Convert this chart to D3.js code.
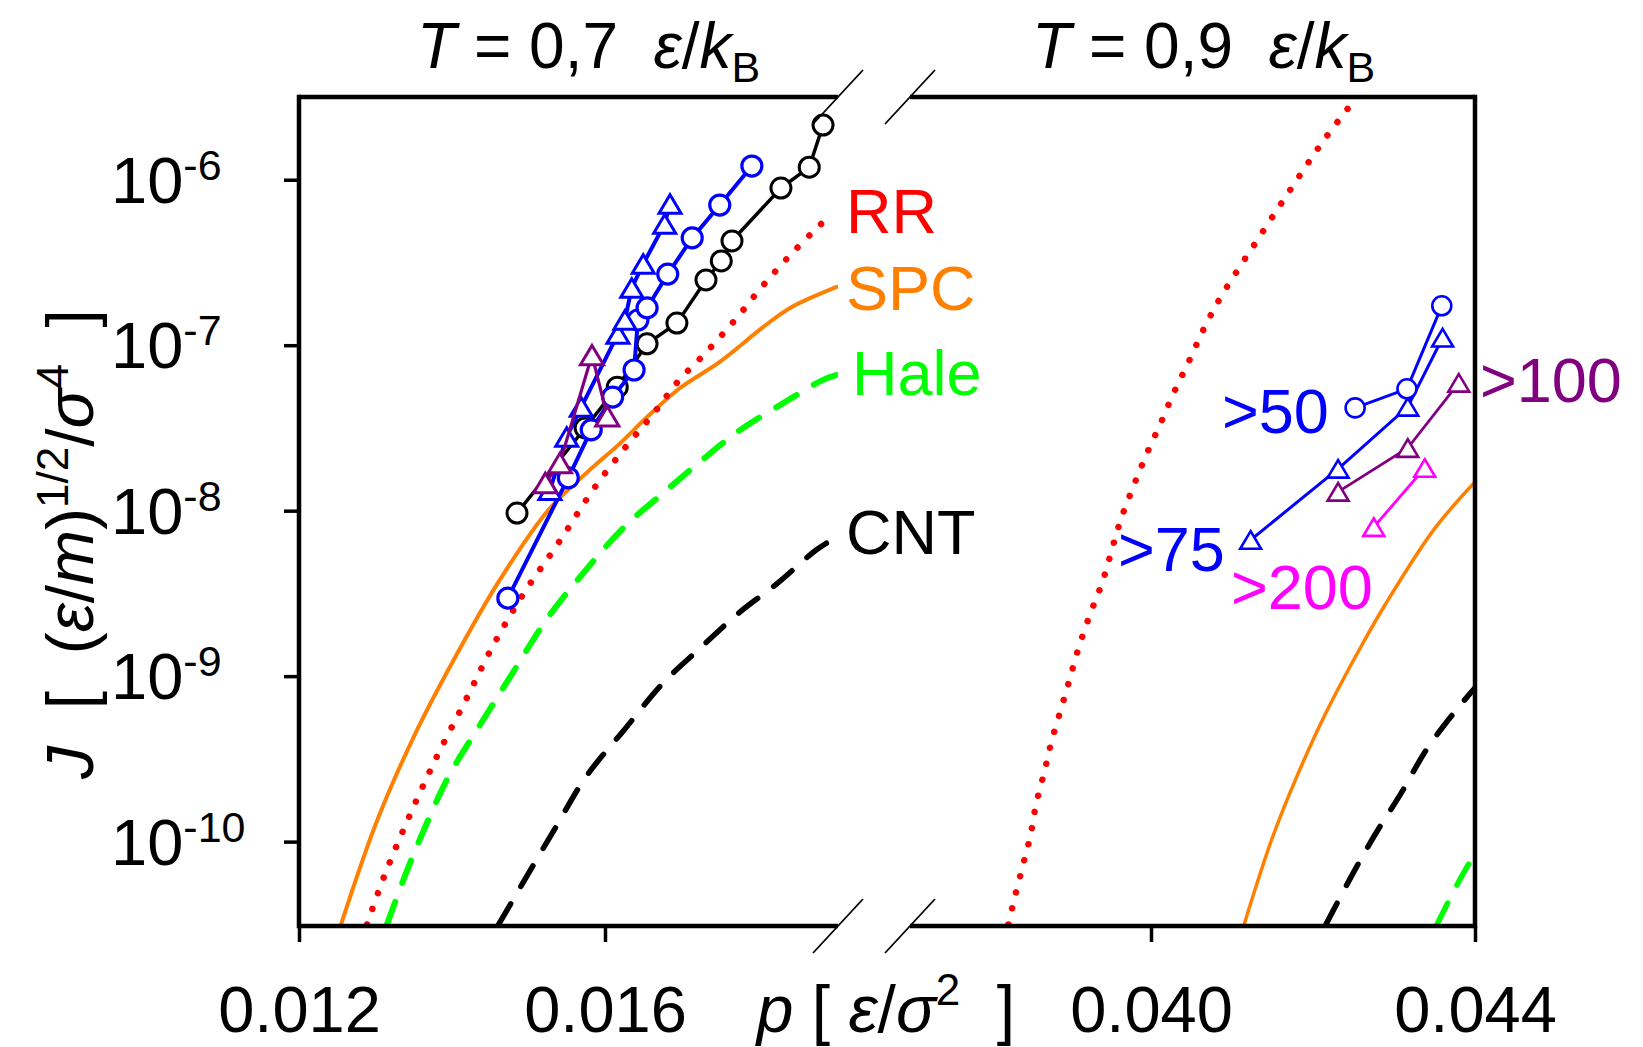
<!DOCTYPE html>
<html>
<head>
<meta charset="utf-8">
<script src="https://cdn.jsdelivr.net/npm/d3@7"></script>
<style>
body { margin: 0; background: #fff; }
text { font-family: "Liberation Sans", Arial, sans-serif; white-space: pre; }
</style>
</head>
<body>
<div id="chart"></div>
<script>
// ---- data: T = 0.7 (left panel) ----
const pCircBlack07 = [0.01485, 0.01574, 0.01616, 0.01655, 0.01694, 0.01732, 0.01752, 0.01766, 0.01830, 0.01867, 0.01885];
const jCircBlack07 = [9.68e-9, 3.16e-8, 5.58e-8, 1.02e-7, 1.36e-7, 2.48e-7, 3.23e-7, 4.27e-7, 8.91e-7, 1.19e-6, 2.14e-6];
const pCircBlue07 = [0.01473, 0.01552, 0.01582, 0.01610, 0.01638, 0.01643, 0.01655, 0.01682, 0.01714, 0.01750, 0.01792];
const jCircBlue07 = [2.96e-9, 1.58e-8, 3.08e-8, 4.86e-8, 7.08e-8, 1.42e-7, 1.68e-7, 2.69e-7, 4.45e-7, 7.03e-7, 1.21e-6];
const pTriBlue07 = [0.01528, 0.01550, 0.01569, 0.01617, 0.01626, 0.01635, 0.01650, 0.01678, 0.01685];
const jTriBlue07 = [1.33e-8, 2.79e-8, 4.23e-8, 1.17e-7, 1.42e-7, 2.22e-7, 3.10e-7, 5.40e-7, 7.13e-7];
const pTriPurple07 = [0.01522, 0.01541, 0.01583, 0.01603];
const jTriPurple07 = [1.47e-8, 1.94e-8, 8.71e-8, 3.72e-8];

const pRR07 = [0.01289, 0.01311, 0.01345, 0.01380, 0.01418, 0.01455, 0.01495, 0.01540, 0.01586, 0.01629, 0.01664, 0.01695, 0.01735, 0.01771, 0.01805, 0.01841, 0.01881, 0.01894];
const jRR07 = [3.16e-11, 6.12e-11, 1.45e-10, 3.25e-10, 7.18e-10, 1.57e-9, 3.23e-9, 6.47e-9, 1.37e-8, 2.49e-8, 3.89e-8, 6.00e-8, 9.35e-8, 1.44e-7, 2.25e-7, 3.46e-7, 5.32e-7, 6.04e-7];
const pSPC07 = [0.01255, 0.01301, 0.01350, 0.01400, 0.01460, 0.01526, 0.01577, 0.01620, 0.01655, 0.01698, 0.01750, 0.01807, 0.01842, 0.01903];
const jSPC07 = [3.16e-11, 1.30e-10, 4.30e-10, 1.20e-9, 3.66e-9, 1.01e-8, 1.71e-8, 2.56e-8, 3.68e-8, 5.51e-8, 7.93e-8, 1.29e-7, 1.68e-7, 2.25e-7];
const pHale07 = [0.01315, 0.01340, 0.01365, 0.01395, 0.01435, 0.01476, 0.01526, 0.01575, 0.01625, 0.01678, 0.01724, 0.01773, 0.01829, 0.01885, 0.01903];
const jHale07 = [3.16e-11, 6.47e-11, 1.23e-10, 2.45e-10, 4.93e-10, 9.89e-10, 2.28e-9, 4.38e-9, 7.96e-9, 1.30e-8, 1.97e-8, 2.99e-8, 4.35e-8, 6.17e-8, 6.61e-8];
const pCNT07 = [0.01461, 0.01495, 0.01536, 0.01575, 0.01625, 0.01676, 0.01726, 0.01775, 0.01826, 0.01876, 0.01903];
const jCNT07 = [3.16e-11, 5.87e-11, 1.23e-10, 2.46e-10, 4.73e-10, 9.10e-10, 1.50e-9, 2.41e-9, 3.66e-9, 5.78e-9, 6.93e-9];

// ---- data: T = 0.9 (right panel) ----
const pCircBlue09 = [0.04252, 0.04316, 0.04359];
const jCircBlue09 = [4.18e-8, 5.45e-8, 1.73e-7];
const pTriBlue09 = [0.04123, 0.04231, 0.04317, 0.04360];
const jTriBlue09 = [6.65e-9, 1.79e-8, 4.24e-8, 1.11e-7];
const pTriPurple09 = [0.04231, 0.04317, 0.04380];
const jTriPurple09 = [1.30e-8, 2.39e-8, 5.92e-8];
const pTriMagenta09 = [0.04275, 0.04338];
const jTriMagenta09 = [7.96e-9, 1.81e-8];

const pRR09 = [0.03824, 0.03831, 0.03841, 0.03851, 0.03858, 0.03868, 0.03877, 0.03889, 0.03900, 0.03911, 0.03925, 0.03940, 0.03963, 0.03978, 0.03993, 0.04011, 0.04028, 0.04047, 0.04065, 0.04086, 0.04128, 0.04170, 0.04211, 0.04254];
const jRR09 = [3.16e-11, 4.45e-11, 6.93e-11, 1.08e-10, 1.67e-10, 2.60e-10, 4.00e-10, 6.34e-10, 9.75e-10, 1.50e-9, 2.38e-9, 3.71e-9, 8.91e-9, 1.39e-8, 2.11e-8, 3.30e-8, 5.14e-8, 8.02e-8, 1.25e-7, 1.95e-7, 4.08e-7, 8.41e-7, 1.67e-6, 3.16e-6];
const pSPC09 = [0.04115, 0.04149, 0.04180, 0.04216, 0.04259, 0.04289, 0.04349, 0.04400];
const jSPC09 = [3.16e-11, 1.03e-10, 2.47e-10, 6.00e-10, 1.50e-9, 2.70e-9, 7.66e-9, 1.49e-8];
const pCNT09 = [0.04216, 0.04247, 0.04275, 0.04309, 0.04340, 0.04374, 0.04400];
const jCNT09 = [3.16e-11, 6.12e-11, 1.07e-10, 1.97e-10, 3.59e-10, 6.00e-10, 8.49e-10];
const pHale09 = [0.04353, 0.04379, 0.04400];
const jHale09 = [3.16e-11, 5.62e-11, 8.53e-11];

// ticks
const xTicksL = [0.012, 0.016];
const xTicksR = [0.040, 0.044];
const yTicks = [1e-6, 1e-7, 1e-8, 1e-9, 1e-10];

// ---- layout ----
const W = 1643, H = 1047;
const yTopPx = 97, yBotPx = 926;
const leftX0 = 299, leftX1 = 838, rightX0 = 910, rightX1 = 1475;

const xL = d3.scaleLinear().domain([0.012, 0.016]).range([299, 605]);
const xR = d3.scaleLinear().domain([0.040, 0.044]).range([1151, 1475]);
const y = d3.scaleLog().domain([Math.pow(10, -10.51), Math.pow(10, -5.5)]).range([yBotPx, yTopPx]);

const RED = "#ff0000", ORANGE = "#ff8000", GREEN = "#00ff00", BLUE = "#0000ff", PURPLE = "#800080", MAGENTA = "#ff00ff";

const svg = d3.select("#chart").append("svg")
    .attr("width", W).attr("height", H)
    .style("background", "#fff");

const defs = svg.append("defs");
defs.append("clipPath").attr("id", "clipL").append("rect")
    .attr("x", leftX0).attr("y", yTopPx).attr("width", leftX1 - leftX0).attr("height", yBotPx - yTopPx);
defs.append("clipPath").attr("id", "clipR").append("rect")
    .attr("x", rightX0).attr("y", yTopPx).attr("width", rightX1 - rightX0).attr("height", yBotPx - yTopPx);

const gL = svg.append("g").attr("clip-path", "url(#clipL)");
const gR = svg.append("g").attr("clip-path", "url(#clipR)");

function zip(ps, js) { return ps.map((p, i) => [p, js[i]]); }

// theory curves
function curve(g, x, ps, js, color, width, dash, curveType) {
    const line = d3.line()
        .x(d => x(d[0])).y(d => y(d[1]))
        .curve(curveType || d3.curveLinear);
    g.append("path")
        .datum(zip(ps, js))
        .attr("d", line)
        .attr("fill", "none")
        .attr("stroke", color)
        .attr("stroke-width", width)
        .attr("stroke-linecap", "round")
        .attr("stroke-dasharray", dash || null);
}

curve(gL, xL, pSPC07, jSPC07, ORANGE, 4, null, d3.curveCatmullRom);
curve(gL, xL, pRR07, jRR07, RED, 6.5, "0.01 16.5", d3.curveCatmullRom);
curve(gL, xL, pHale07, jHale07, GREEN, 6, "24 20", d3.curveCatmullRom);
curve(gL, xL, pCNT07, jCNT07, "#000", 5.5, "24 20", d3.curveCatmullRom);

curve(gR, xR, pRR09, jRR09, RED, 6.5, "0.01 16.5", d3.curveCatmullRom);
curve(gR, xR, pSPC09, jSPC09, ORANGE, 3.5, null, d3.curveCatmullRom);
curve(gR, xR, pCNT09, jCNT09, "#000", 5.5, "24 20", d3.curveCatmullRom);
curve(gR, xR, pHale09, jHale09, GREEN, 5.5, "24 20", d3.curveCatmullRom);

// simulation series
function triPath(w, h) {
    return "M0," + (-h / 2) + "L" + (w / 2) + "," + (h / 2) + "L" + (-w / 2) + "," + (h / 2) + "Z";
}

function series(g, x, ps, js, color, shape, lw, size, sw) {
    const data = zip(ps, js);
    g.append("path")
        .datum(data)
        .attr("d", d3.line().x(d => x(d[0])).y(d => y(d[1])))
        .attr("fill", "none")
        .attr("stroke", color)
        .attr("stroke-width", lw);
    const m = g.append("g");
    if (shape === "circle") {
        m.selectAll("circle").data(data).enter().append("circle")
            .attr("cx", d => x(d[0])).attr("cy", d => y(d[1]))
            .attr("r", size)
            .attr("fill", "#fff").attr("stroke", color).attr("stroke-width", sw);
    } else {
        m.selectAll("path").data(data).enter().append("path")
            .attr("transform", d => "translate(" + x(d[0]) + "," + y(d[1]) + ")")
            .attr("d", triPath(size * 2.2, size * 1.85))
            .attr("fill", "#fff").attr("stroke", color).attr("stroke-width", sw)
            .attr("stroke-linejoin", "miter");
    }
}

series(gL, xL, pCircBlack07, jCircBlack07, "#000", "circle", 3.5, 10, 3);
series(gL, xL, pCircBlue07, jCircBlue07, BLUE, "circle", 4, 10, 3.2);
series(gL, xL, pTriBlue07, jTriBlue07, BLUE, "tri", 4, 10, 3);
series(gL, xL, pTriPurple07, jTriPurple07, PURPLE, "tri", 3.2, 10.5, 3);

series(gR, xR, pTriMagenta09, jTriMagenta09, MAGENTA, "tri", 2.8, 9.5, 2.6);
series(gR, xR, pTriPurple09, jTriPurple09, PURPLE, "tri", 2.8, 9.5, 2.6);
series(gR, xR, pTriBlue09, jTriBlue09, BLUE, "tri", 3, 9.5, 2.6);
series(gR, xR, pCircBlue09, jCircBlue09, BLUE, "circle", 3, 9.5, 2.6);

// ---- frame ----
const frame = svg.append("g").attr("stroke", "#000").attr("stroke-width", 4.5).attr("stroke-linecap", "square");
frame.append("line").attr("x1", leftX0).attr("x2", leftX0).attr("y1", yTopPx).attr("y2", yBotPx);
frame.append("line").attr("x1", rightX1).attr("x2", rightX1).attr("y1", yTopPx).attr("y2", yBotPx);
[yTopPx, yBotPx].forEach(yy => {
    frame.append("line").attr("x1", leftX0).attr("x2", leftX1).attr("y1", yy).attr("y2", yy).attr("stroke-linecap", "butt");
    frame.append("line").attr("x1", rightX0).attr("x2", rightX1).attr("y1", yy).attr("y2", yy).attr("stroke-linecap", "butt");
});
// axis break marks
[leftX1, rightX0].forEach(cx => {
    [yTopPx, yBotPx].forEach(cy => {
        svg.append("line")
            .attr("x1", cx - 25).attr("y1", cy + 27)
            .attr("x2", cx + 25).attr("y2", cy - 27)
            .attr("stroke", "#000").attr("stroke-width", 1.8);
    });
});

// ---- axes ----
function styleAxis(g) {
    g.select(".domain").remove();
    g.selectAll(".tick line").attr("stroke", "#000").attr("stroke-width", 3.5);
    g.selectAll(".tick text").attr("font-size", 65).attr("fill", "#000")
        .attr("font-family", "'Liberation Sans', Arial, sans-serif");
}

svg.append("g").attr("transform", "translate(0," + yBotPx + ")")
    .call(d3.axisBottom(xL).tickValues(xTicksL).tickSize(16).tickSizeOuter(0).tickPadding(44).tickFormat(d3.format(".3f")))
    .call(styleAxis);
svg.append("g").attr("transform", "translate(0," + yBotPx + ")")
    .call(d3.axisBottom(xR).tickValues(xTicksR).tickSize(16).tickSizeOuter(0).tickPadding(44).tickFormat(d3.format(".3f")))
    .call(styleAxis);

svg.append("g").attr("transform", "translate(" + leftX0 + ",0)")
    .call(d3.axisLeft(y).tickValues(yTicks).tickSize(15).tickSizeOuter(0).tickFormat(""))
    .call(styleAxis);

// y tick labels 10^n
yTicks.forEach(v => {
    const e = Math.round(Math.log10(v));
    const t = svg.append("text")
        .attr("x", 111).attr("y", y(v) + 23)
        .attr("font-size", 65).attr("fill", "#000");
    t.append("tspan").text("10");
    t.append("tspan").attr("font-size", 43).attr("dy", -23).text(String(e));
});

// ---- titles ----
function title(x0, label) {
    const t = svg.append("text").attr("x", x0).attr("y", 68).attr("font-size", 64).attr("fill", "#000");
    t.append("tspan").attr("font-style", "italic").text("T");
    t.append("tspan").text(" = " + label + "  ");
    t.append("tspan").attr("font-style", "italic").text("ε");
    t.append("tspan").text("/");
    t.append("tspan").attr("font-style", "italic").text("k");
    t.append("tspan").attr("font-size", 43).attr("dy", 14).text("B");
}
title(417, "0,7");
title(1032, "0,9");

// x axis label
const xl = svg.append("text").attr("x", 886).attr("y", 1032).attr("text-anchor", "middle")
    .attr("font-size", 66).attr("fill", "#000");
xl.append("tspan").attr("font-style", "italic").text("p");
xl.append("tspan").text(" [ ");
xl.append("tspan").attr("font-style", "italic").text("ε");
xl.append("tspan").text("/");
xl.append("tspan").attr("font-style", "italic").text("σ");
xl.append("tspan").attr("font-size", 44).attr("dy", -27).text("2");
xl.append("tspan").attr("dy", 27).text("  ]");

// y axis label
const yl = svg.append("text").attr("transform", "translate(93,544) rotate(-90)")
    .attr("text-anchor", "middle").attr("font-size", 66).attr("fill", "#000");
yl.append("tspan").attr("font-style", "italic").text("J");
yl.append("tspan").text("  [  (");
yl.append("tspan").attr("font-style", "italic").text("ε");
yl.append("tspan").text("/");
yl.append("tspan").attr("font-style", "italic").text("m");
yl.append("tspan").text(")");
yl.append("tspan").attr("font-size", 44).attr("dy", -25).text("1/2");
yl.append("tspan").attr("dy", 25).text("/");
yl.append("tspan").attr("font-style", "italic").text("σ");
yl.append("tspan").attr("font-size", 44).attr("dy", -25).text("4");
yl.append("tspan").attr("dy", 25).text("  ]");

// ---- curve and series labels ----
const labels = [
    { t: "RR", x: 846, y: 233, c: RED },
    { t: "SPC", x: 846, y: 310, c: ORANGE },
    { t: "Hale", x: 852, y: 395, c: GREEN },
    { t: "CNT", x: 846, y: 554, c: "#000" },
    { t: ">50", x: 1222, y: 433, c: BLUE },
    { t: ">75", x: 1118, y: 571, c: BLUE },
    { t: ">200", x: 1231, y: 609, c: MAGENTA },
    { t: ">100", x: 1480, y: 402, c: PURPLE }
];
svg.selectAll(".lbl").data(labels).enter().append("text")
    .attr("class", "lbl")
    .attr("x", d => d.x).attr("y", d => d.y)
    .attr("font-size", 63)
    .attr("fill", d => d.c)
    .text(d => d.t);
</script>
</body>
</html>
